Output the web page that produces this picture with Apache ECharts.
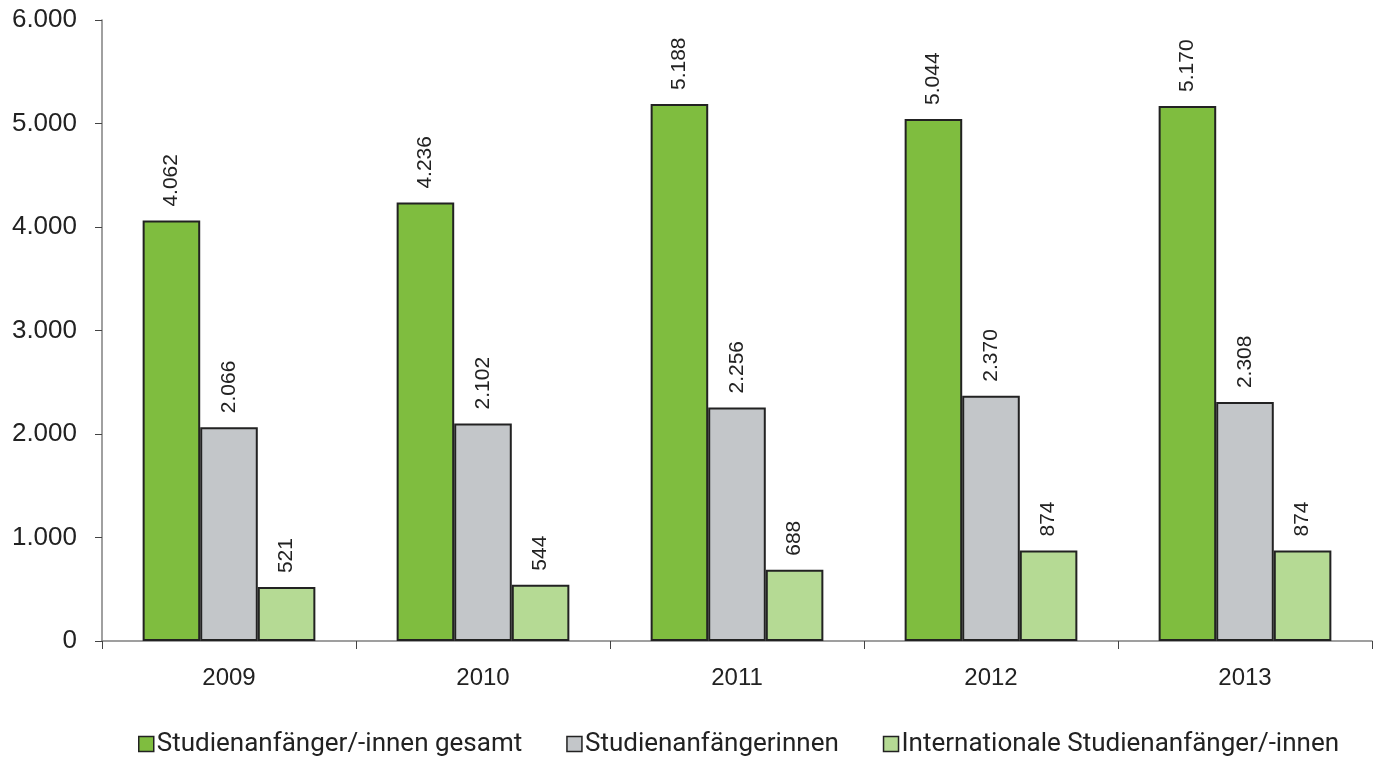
<!DOCTYPE html>
<html><head><meta charset="utf-8">
<script src="https://cdn.jsdelivr.net/npm/echarts@6/dist/echarts.min.js"></script>
<style>html,body{margin:0;padding:0;background:#fff}#c{width:1381px;height:762px}</style>
</head><body><div id="c"></div>
<script>
const categories = ['2009','2010','2011','2012','2013'];
const seriesNames = ['Studienanfänger/-innen gesamt','Studienanfängerinnen','Internationale Studienanfänger/-innen'];
const gesamt = [4062, 4236, 5188, 5044, 5170];
const frauen = [2066, 2102, 2256, 2370, 2308];
const international = [521, 544, 688, 874, 874];
const colors = ['#7fbd3f', '#c3c6c9', '#b5da94'];

function fmt(v){ return String(v).replace(/\B(?=(\d{3})+(?!\d))/g, '.'); }

const chart = echarts.init(document.getElementById('c'));
const mk = (name, data, color) => ({
  name, type: 'bar', data,
  barGap: '0%', barCategoryGap: '32%',
  itemStyle: { color, borderColor: '#222', borderWidth: 2 },
  label: {
    show: true, position: 'top', rotate: 90, align: 'left', verticalAlign: 'middle',
    distance: 14, fontSize: 21, color: '#222', fontFamily: 'Liberation Sans',
    formatter: p => fmt(p.value)
  }
});
chart.setOption({
  animation: false,
  grid: { left: 102, right: 9, top: 20, bottom: 121, containLabel: false },
  legend: {
    bottom: 0, left: 133, itemWidth: 15, itemHeight: 15, itemGap: 44,
    textStyle: { fontSize: 26, color: '#222', fontFamily: 'Roboto', padding: [0,0,0,-2] },
    icon: 'rect',
    itemStyle: { borderColor: '#222', borderWidth: 1.5 },
    data: seriesNames
  },
  xAxis: {
    type: 'category', data: categories,
    axisLine: { lineStyle: { color: '#808080', width: 1.5 } },
    axisTick: { show: true, length: 8, lineStyle: { color: '#444' } },
    axisLabel: { fontSize: 24, color: '#222', margin: 25, fontFamily: 'Liberation Sans' }
  },
  yAxis: {
    type: 'value', min: 0, max: 6000, interval: 1000,
    axisLine: { show: true, lineStyle: { color: '#808080', width: 1.5 } },
    axisTick: { show: true, length: 7, lineStyle: { color: '#444' } },
    splitLine: { show: false },
    axisLabel: { fontSize: 26, color: '#222', margin: 25, fontFamily: 'Liberation Sans', formatter: v => fmt(v) }
  },
  series: [mk(seriesNames[0], gesamt, colors[0]), mk(seriesNames[1], frauen, colors[1]), mk(seriesNames[2], international, colors[2])]
});
</script></body></html>
